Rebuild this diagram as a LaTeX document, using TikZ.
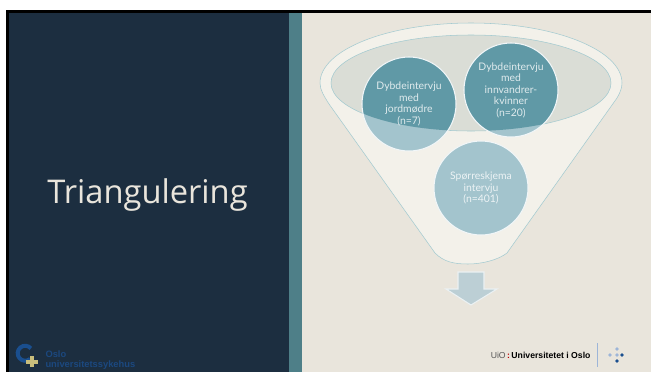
\documentclass[tikz,border=0pt]{standalone}
\usepackage{fontspec}
\setmainfont{Liberation Sans}
\newfontfamily\titlefont{Open Sans}
\newfontfamily\discfont{Lato}
\definecolor{panelnavy}{HTML}{1C2E40}
\definecolor{panelteal}{HTML}{4E7F88}
\definecolor{paperbeige}{HTML}{E9E5DC}
\definecolor{funnelfill}{HTML}{F3F1EA}
\definecolor{funnelline}{HTML}{A3CAD0}
\definecolor{funneltop}{HTML}{DADDD6}
\definecolor{discdark}{HTML}{6099A6}
\definecolor{disclight}{HTML}{A3C4CD}
\definecolor{arrowfill}{HTML}{BCCFD5}
\definecolor{logoblue}{HTML}{1A4F8F}
\definecolor{logopale}{HTML}{9DB5D8}
\definecolor{logogold}{HTML}{C9BE7C}
\tikzset{
  disc/.style = {circle, draw=white!85!disclight, line width=0.8pt, minimum size=70.5pt, inner sep=0pt, align=center,
    fill=disclight, text=white, text opacity=0.8, font=\discfont\fontsize{7.8}{8.6}\selectfont},
  indisc/.style = {disc, path picture={\fill[discdark] (bowl) ellipse (105pt and 36pt);}},
  brand/.style = {inner sep=0pt, font=\fontsize{6.5}{7}\selectfont},
}
\begin{document}
\begin{tikzpicture}[x=0.75pt, y=-0.75pt, thick]
  \useasboundingbox (0,0) rectangle (651,372);
  \fill[white] (0,0) rectangle (651,372);
  \fill[black] (6,10) rectangle (651,372);
  \fill[panelnavy] (9,13) rectangle (289,372);
  \fill[panelteal] (289,13) rectangle (302,372);
  \fill[paperbeige] (302,13) rectangle (651,372);

  \node[text=paperbeige, font=\titlefont\fontsize{24.5}{30}\selectfont, inner sep=0pt, anchor=base] (title) at (147.5,203) {Triangulering};

  % funnel
  \coordinate (bowl) at (471,83);
  \draw[funnelline, fill=funnelfill, line width=0.4pt] (320,83) arc (180:360:151 and 60)
    .. controls (622,88) and (620,93) .. (617,98) -- (507,253)
    .. controls (498,260) and (482,264) .. (468,264)
    .. controls (454,264) and (444,262) .. (435,253) -- (329,104)
    .. controls (324,96) and (320,90) .. (320,83) -- cycle;
  \draw[funnelline, fill=funneltop, line width=0.4pt] (bowl) ellipse (105pt and 36pt);

  \node[disc] (spor) at (481,188) {Spørreskjema\\intervju\\(n=401)};
  \node[indisc] (jord) at (409,104) {Dybdeintervju\\med\\jordmødre\\(n=7)};
  \node[indisc] (innv) at (511,90) {Dybdeintervju\\med\\innvandrer-\\kvinner\\(n=20)};

  % arrow under funnel
  \draw[white!70!arrowfill, fill=arrowfill, line width=0.8pt]
    (458,272) -- (484,272) -- (484,289) -- (497,289) -- (471,305) -- (446,289) -- (458,289) -- cycle;

  % logos
  \node[brand, anchor=east] (uio) at (591,355) {\textcolor{black!65}{UiO}\,\textcolor{red!75!black}{\textbf{:}}\,\textbf{Universitetet i Oslo}};
  \coordinate (sepa) at (597,343);
  \coordinate (sepb) at (597,367);
  \draw[logopale, line width=0.5pt] (sepa) -- (sepb);
  \foreach \dotx/\doty/\dotc in {617/349/logopale, 610/355/logopale, 617/355/logopale, 622/355/logoblue, 617/361/logoblue}
    \fill[\dotc] (\dotx,\doty) circle (1.9);

  \draw[logoblue, line width=3pt] (30,359) arc (50:320:7.5);
  \fill[logogold] (26,360) rectangle (38,364);
  \fill[logogold] (30,356) rectangle (34,367);
  \node[brand, anchor=west, text=logoblue!80!panelnavy, align=left, font=\bfseries\fontsize{7}{7.5}\selectfont] (ous) at (45,360) {Oslo\\universitetssykehus};
\end{tikzpicture}
\end{document}
